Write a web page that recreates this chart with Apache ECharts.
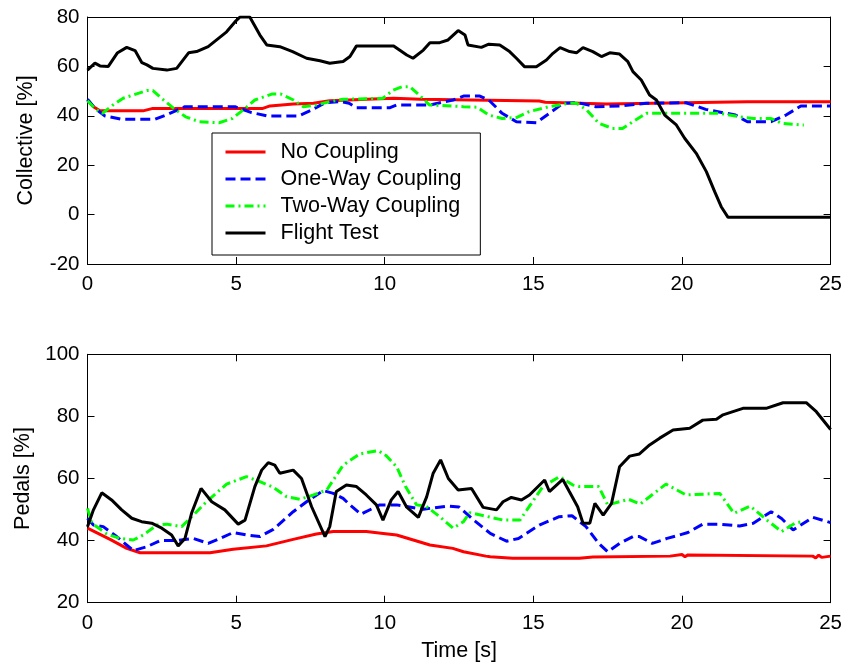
<!DOCTYPE html>
<html>
<head>
<meta charset="utf-8">
<script src="https://cdn.jsdelivr.net/npm/echarts@6/dist/echarts.min.js"></script>
<style>
html,body{margin:0;padding:0;background:#fff;}
#chart{width:845px;height:663px;}
</style>
</head>
<body>
<div id="chart"></div>
<script>
// ---------- DATA ----------
var seriesNames = ['No Coupling', 'One-Way Coupling', 'Two-Way Coupling', 'Flight Test'];
var xTicks = [0, 5, 10, 15, 20, 25];
var collectiveTicks = [-20, 0, 20, 40, 60, 80];
var pedalsTicks = [20, 40, 60, 80, 100];

// Collective – No Coupling
var colNoT = [0,0.2,0.42,1.87,2.2,5.9,6.14,6.93,7.6,8.15,9.4,10.3,11.2,15.2,15.4,17.46,22.2,25];
var colNoV = [46.4,43.7,42,42,43,43,44,44.8,45.1,46.1,46.7,47.1,46.7,46,45.5,44.8,45.7,45.7];
// Collective – One-Way Coupling
var colOneT = [0,0.25,0.59,1.15,2.27,2.72,3.28,4.96,5.52,6.08,7.09,7.54,7.99,8.5,8.8,9.05,10.18,10.4,11.52,12.3,12.65,13.2,13.5,13.95,14.43,15.1,15.54,16.0,16.5,17.1,17.9,18.8,20.14,20.8,21.8,22.2,23.0,23.5,24.0,25];
var colOneV = [46.7,43,39.9,38.6,38.6,40.7,43.7,43.7,41.3,39.9,39.9,42.3,45.3,45.8,45.1,43.3,43.3,44.4,44.4,46.4,48,48,46.4,41,37.6,37.2,41,45.1,45.3,43.7,44,45.1,45.3,42.6,40.3,37.6,37.6,40.3,44,44];
// Collective – Two-Way Coupling
var colTwoT = [0,0.25,0.5,0.86,1.2,1.53,2.0,2.2,2.56,2.9,3.3,3.76,4.43,4.87,5.3,5.63,6.2,6.5,6.93,7.26,7.7,8.15,8.6,9.94,10.28,10.6,10.84,11.2,11.5,12.65,13.1,13.5,13.95,14.43,14.86,15.54,16.22,16.45,16.8,17.2,17.66,18.0,18.35,18.8,19.47,21.27,21.94,22.4,23.0,23.35,24.0,24.1];
var colTwoV = [46.1,43,41,44.4,47.1,48.4,50.2,50.2,46.4,43,39.6,37.6,37.2,38.9,43,46.4,48.8,48.8,46.4,43.7,44.4,45.7,46.7,47.1,50.4,51.8,51.8,48,44.4,43.7,43.5,40.3,38.9,39.3,41.7,43.7,45.1,45.1,42.3,37,34.9,34.9,37.6,41,41,41,39.6,38.9,38.9,37,36.3,36.3];
// Collective – Flight Test
var colFtT = [0,0.25,0.42,0.7,1.0,1.32,1.6,1.83,2.0,2.2,2.67,3.0,3.4,3.67,4.06,4.68,4.96,5.13,5.3,5.46,5.8,6.03,6.47,6.9,7.37,7.82,8.15,8.6,8.83,9.05,10.3,10.74,10.95,11.3,11.52,11.85,12.13,12.47,12.7,12.8,13.25,13.5,13.87,14.2,14.43,14.7,15.1,15.44,15.66,15.9,16.22,16.45,16.67,17.0,17.29,17.57,17.9,18.18,18.35,18.63,18.91,19.14,19.42,19.81,20.09,20.48,20.82,21.1,21.32,21.55,25];
var colFtV = [58.5,61.3,60.2,60,65.4,67.7,66.4,61.5,60.6,59.2,58.5,59.2,65.5,66,68,74,78,80,80,80,72.7,68.7,68,66,63.3,62.3,61.3,62,64,68.3,68.3,64.6,63.3,66.6,69.6,69.6,70.7,74.5,72.7,68.7,67.7,69,68.7,66,63.3,59.9,59.9,62.6,65.3,67.6,66,65.5,67.6,66,64,65.5,65,61.9,57.9,54.5,48.4,46.4,40.3,36.3,30.9,24.8,17.4,9.3,3.2,-1.1,-1.1];

// Pedals – No Coupling
var pedNoT = [0,0.76,1.32,1.77,4.12,4.9,6.02,6.92,7.7,8.27,9.38,9.95,10.4,11.52,12.29,12.65,13.4,13.55,14.3,16.55,17.0,19.6,20.0,20.1,20.2,24.4,24.5,24.6,24.7,25];
var pedNoV = [44,40.4,37.5,36.1,36.1,37.2,38.3,40.4,42.1,42.9,42.9,42.3,41.8,38.6,37.5,36.4,35,34.8,34.3,34.3,34.7,35,35.5,34.8,35.4,35,34.4,35.3,34.6,35];
// Pedals – One-Way Coupling
var pedOneT = [0,0.2,0.53,0.98,1.54,1.99,2.44,3.0,3.56,4.06,4.46,4.9,5.35,5.8,6.25,6.92,7.37,7.93,8.27,8.6,8.83,9.2,9.83,10.4,11.3,12.1,12.5,13.0,13.55,14.1,14.5,15.2,15.87,16.3,16.77,17.2,17.5,17.9,18.35,18.57,19.0,19.5,20.2,20.7,21.27,21.94,22.4,23.0,23.35,23.74,24.4,25];
var pedOneV = [47.2,45,44.5,41.3,36.8,38,40,40,40.7,39.1,40.7,42.6,41.8,41.3,43.6,49.3,52.5,56.1,55.2,53.6,51.5,48.5,51.5,51.5,50.1,51.1,50.8,46.6,42.3,39.8,40.7,45,47.7,48,44.5,39.1,36.4,39.1,41.3,41.3,39.1,40.7,42.6,45.3,45.3,44.7,45.6,49.3,47.1,43.4,47.5,45.8];
// Pedals – Two-Way Coupling
var pedTwoT = [0,0.15,0.65,1.1,1.54,1.88,2.33,2.67,3.17,3.56,4.0,4.68,5.35,5.8,6.25,6.7,7.15,7.6,8.05,8.6,9.16,9.78,10.05,10.4,10.7,11.07,11.4,11.85,12.3,12.65,12.86,13.43,13.99,14.55,14.87,15.32,15.88,16.33,16.55,17.2,17.5,18.2,18.6,19.46,20.14,21.27,21.75,22.3,22.86,23.35,23.8,24.0];
var pedTwoV = [50.4,45.6,42.1,40.7,40.2,41.8,45,45.3,44.5,48.2,52.5,58.2,60.6,59,57.2,54.1,53.3,54.7,56.3,64.3,67.9,69,67.3,63.8,57.4,51.5,51,47.7,44,46.1,49,47.8,46.6,46.6,51.1,57.4,60.6,57.9,57.4,57.4,51.5,53.3,51.8,58.2,54.7,55.2,48.8,51.1,46.6,42.9,45.6,46];
// Pedals – Flight Test
var pedFtT = [0,0.2,0.48,0.81,1.15,1.49,1.82,2.16,2.5,2.83,3.05,3.28,3.5,3.82,4.18,4.62,5.07,5.3,5.63,5.86,6.08,6.3,6.47,6.92,7.2,7.54,7.99,8.15,8.37,8.71,9.05,9.38,9.72,9.94,10.22,10.45,10.73,11.13,11.41,11.63,11.88,12.14,12.47,12.92,13.31,13.76,13.98,14.26,14.6,14.87,15.38,15.54,15.99,16.21,16.49,16.67,16.9,17.07,17.35,17.63,17.9,18.24,18.57,18.91,19.25,19.7,20.26,20.7,21.16,21.38,22.05,22.83,23.4,24.18,24.52,25];
var pedFtV = [44.5,49.9,55.4,53.1,49.9,47.2,46.1,45.6,44,41.8,38.3,40.7,48.8,56.8,52.5,49.9,45.3,46.6,57.4,62.7,65.1,64.3,61.7,62.7,60,50.9,41.3,44.5,55.8,57.9,57.4,54.7,51.5,46.6,53.1,55.8,50.9,47.5,54.1,61.7,66,60,56.3,56.8,50.7,49.9,52.5,53.9,53.1,54.7,59.5,55.8,59.7,55.8,50.9,45.6,45.6,52,48.2,52,63.8,67.2,67.9,70.8,73,75.6,76.2,78.8,79.1,80.5,82.6,82.6,84.4,84.4,81.5,75.8];

// ---------- BUILD ----------
function pairs(t, v) { return t.map(function (x, i) { return [x, v[i]]; }); }
var FONT = '"Liberation Sans", Arial, sans-serif';
var styles = [
  { color: '#ff0000', type: 'solid' },
  { color: '#0000ff', type: [10, 5] },
  { color: '#00ff00', type: [9, 4, 2, 4] },
  { color: '#000000', type: 'solid' }
];
var topData = [pairs(colNoT, colNoV), pairs(colOneT, colOneV), pairs(colTwoT, colTwoV), pairs(colFtT, colFtV)];
var botData = [pairs(pedNoT, pedNoV), pairs(pedOneT, pedOneV), pairs(pedTwoT, pedTwoV), pairs(pedFtT, pedFtV)];

function xAx(grid, pos, labels, name) {
  return {
    type: 'value', gridIndex: grid, position: pos, min: xTicks[0], max: xTicks[xTicks.length - 1],
    interval: xTicks[1] - xTicks[0],
    axisLine: { show: true, onZero: false, lineStyle: { color: '#000', width: 1 } },
    axisTick: { show: true, inside: true, length: 7, lineStyle: { color: '#000' } },
    axisLabel: { show: labels, color: '#000', fontSize: 20.5, fontFamily: FONT, margin: 10 },
    splitLine: { show: false },
    name: name || '', nameLocation: 'middle', nameGap: 37,
    nameTextStyle: { color: '#000', fontSize: 21.5, fontFamily: FONT }
  };
}
function yAx(grid, pos, labels, ticks, name) {
  return {
    type: 'value', gridIndex: grid, position: pos, min: ticks[0], max: ticks[ticks.length - 1],
    interval: ticks[1] - ticks[0],
    axisLine: { show: true, onZero: false, lineStyle: { color: '#000', width: 1 } },
    axisTick: { show: true, inside: true, length: 7, lineStyle: { color: '#000' } },
    axisLabel: { show: labels, color: '#000', fontSize: 20.5, fontFamily: FONT, margin: 8 },
    splitLine: { show: false },
    name: name || '', nameLocation: 'middle', nameGap: 50,
    nameTextStyle: { color: '#000', fontSize: 21.5, fontFamily: FONT }
  };
}

var series = [];
[topData, botData].forEach(function (set, g) {
  set.forEach(function (d, i) {
    series.push({
      type: 'line', name: seriesNames[i], xAxisIndex: g * 2, yAxisIndex: g * 2,
      data: d, symbol: 'none', smooth: false, animation: false,
      lineStyle: { color: styles[i].color, width: 3, type: styles[i].type },
      itemStyle: { color: styles[i].color }
    });
  });
});

var chart = echarts.init(document.getElementById('chart'), null, { renderer: 'canvas' });
chart.setOption({
  backgroundColor: '#fff',
  animation: false,
  grid: [
    { left: 87.5, top: 17, width: 743.5, height: 247 },
    { left: 87.5, top: 354.3, width: 743.5, height: 248.4 }
  ],
  xAxis: [xAx(0, 'bottom', true), xAx(0, 'top', false), xAx(1, 'bottom', true, 'Time [s]'), xAx(1, 'top', false)],
  yAxis: [yAx(0, 'left', true, collectiveTicks, 'Collective [%]'), yAx(0, 'right', false, collectiveTicks),
          yAx(1, 'left', true, pedalsTicks, 'Pedals [%]'), yAx(1, 'right', false, pedalsTicks)],
  legend: {
    data: seriesNames, orient: 'vertical', left: 212, top: 133,
    backgroundColor: '#fff', borderColor: '#000', borderWidth: 1,
    padding: [8, 19, 11, 12], itemWidth: 40, itemHeight: 14, itemGap: 5,
    itemStyle: { opacity: 0 },
    lineStyle: { width: 3 },
    textStyle: { color: '#000', fontSize: 21.5, fontFamily: FONT, lineHeight: 22, padding: [0, 0, 0, 10] },
    selectedMode: false
  },
  series: series
});
</script>
</body>
</html>
